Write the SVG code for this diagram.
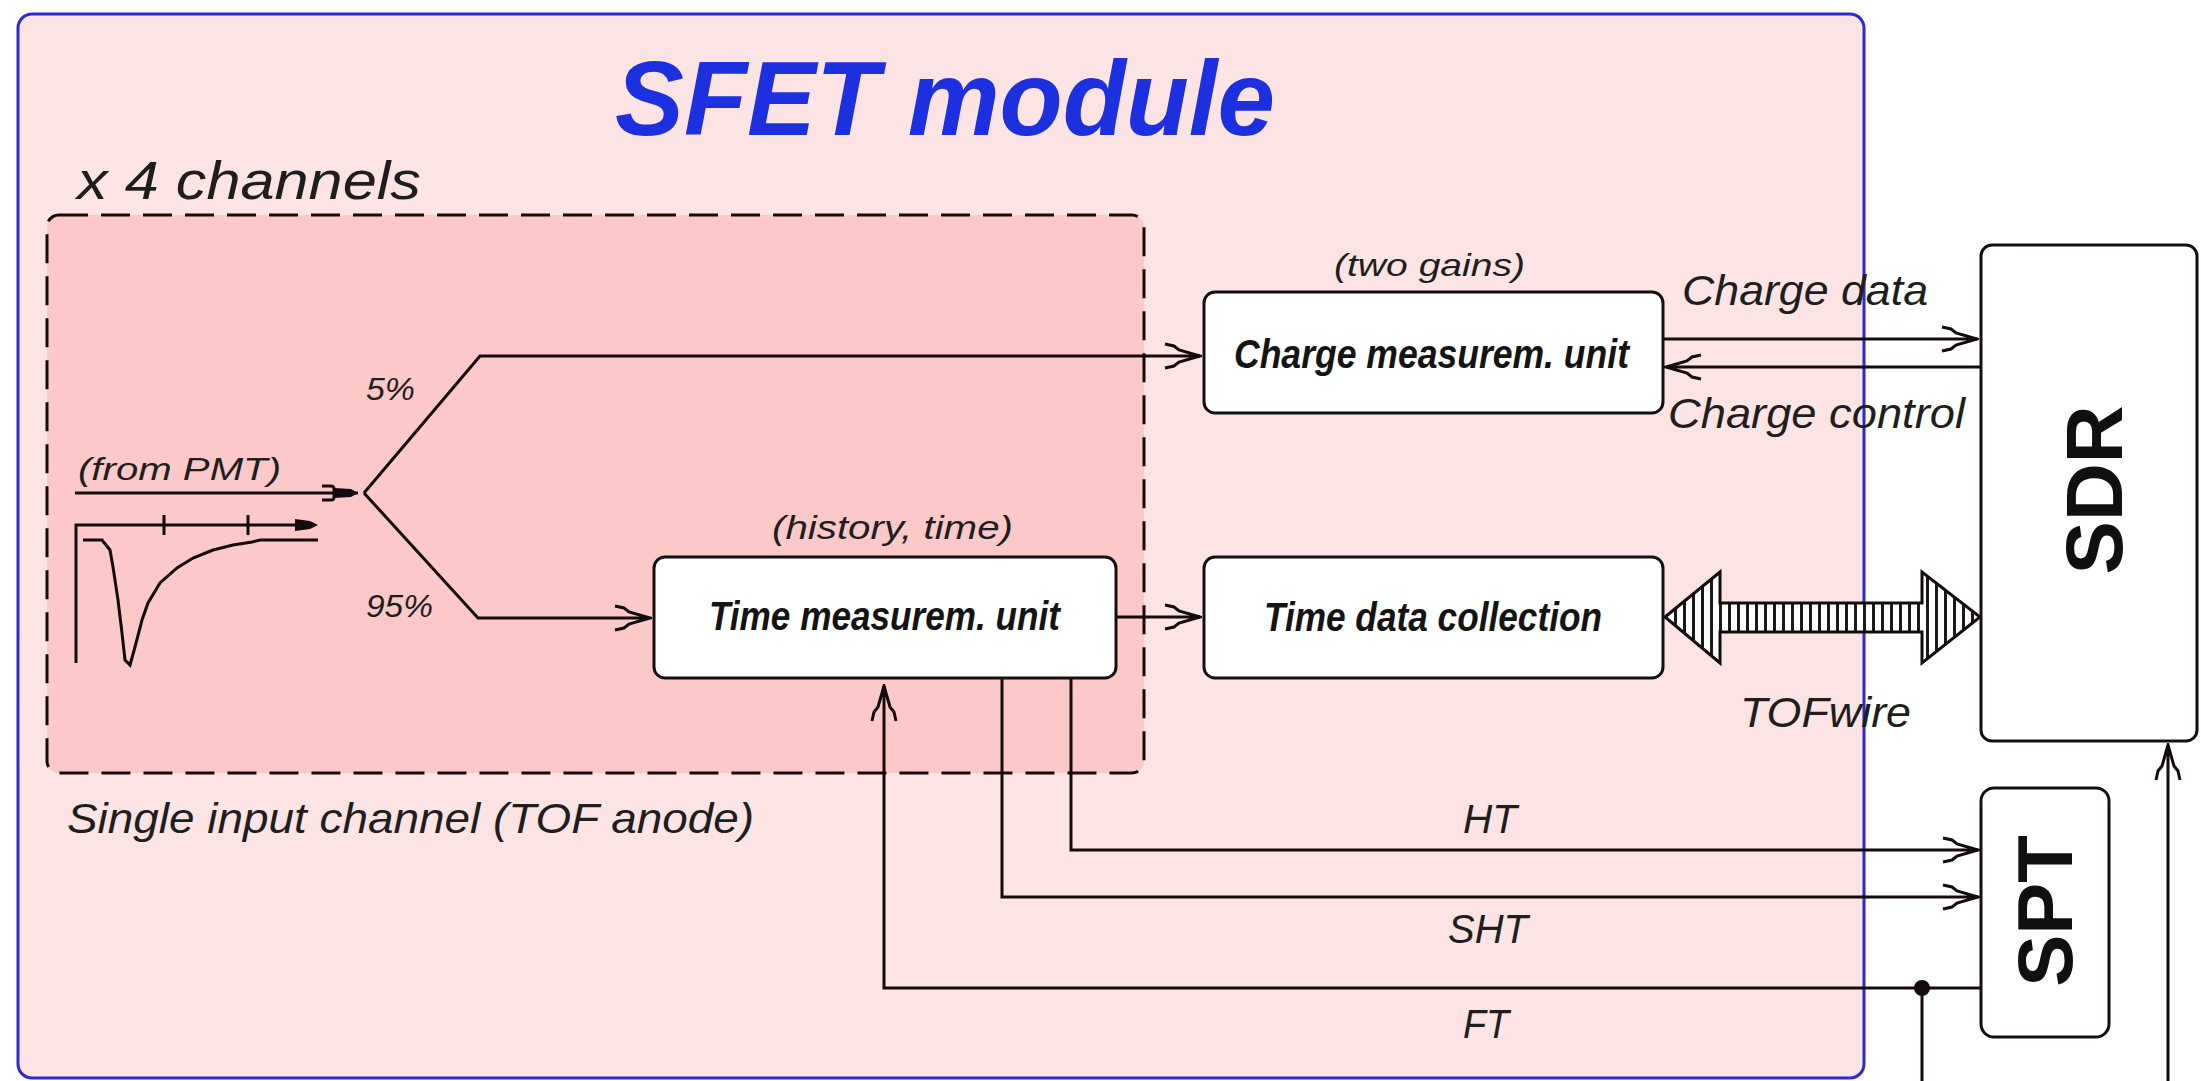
<svg xmlns="http://www.w3.org/2000/svg" width="2201" height="1081" viewBox="0 0 2201 1081">
<style>
.lbl{font-family:"Liberation Sans",Arial,sans-serif;font-style:italic;fill:#1e1e1e}
.box{fill:#ffffff;stroke:#141010;stroke-width:3}
.bl{font-family:"Liberation Sans",Arial,sans-serif;font-style:italic;font-weight:bold;fill:#141414;font-size:41px}
.big{font-family:"Liberation Sans",Arial,sans-serif;font-weight:bold;fill:#101010}
.wire{fill:none;stroke:#140c0c;stroke-width:3}
</style>
<defs>
<marker id="barb" markerUnits="userSpaceOnUse" orient="auto" viewBox="-38 -15 40 30" markerWidth="40" markerHeight="30" refX="0" refY="0">
<path d="M-35,-12 L-26,-10 L-21,-6 L0,0 L-21,6 L-26,10 L-35,12" fill="none" stroke="#140c0c" stroke-width="3"/>
<path d="M0,0 L-13,-5 L-10,0 L-13,5 Z" fill="#140c0c"/>
</marker>
<marker id="bracket" markerUnits="userSpaceOnUse" orient="auto" viewBox="-38 -12 40 24" markerWidth="40" markerHeight="24" refX="0" refY="0">
<path d="M-36,-7 L-27,-7 Q-24,-7 -24,-4 L-24,4 Q-24,7 -27,7 L-36,7" fill="none" stroke="#140c0c" stroke-width="3"/>
<path d="M-24,-5 L-7,-4 L0,0 L-7,4 L-24,5 Z" fill="#140c0c"/>
</marker>
<pattern id="hatch" patternUnits="userSpaceOnUse" width="9" height="10">
<rect width="9" height="10" fill="#ffffff"/>
<rect x="0" width="3" height="10" fill="#1a1a1a"/>
</pattern>
</defs>

<g id="sfet-module">
<rect x="18" y="14" width="1846" height="1064" rx="14" fill="#fde4e4" stroke="#2a2ad0" stroke-width="3"/>
<text x="615" y="135" class="big" font-style="italic" font-size="106" fill="#1c30e0" style="fill:#1c30e0" textLength="660" lengthAdjust="spacingAndGlyphs">SFET module</text>
</g>

<g id="channel-group">
<rect x="47" y="215" width="1097" height="558" rx="12" fill="#fcc8c8" stroke="#140c0c" stroke-width="3" stroke-dasharray="29 13"/>
<text x="77" y="199" class="lbl" font-size="54" textLength="344" lengthAdjust="spacingAndGlyphs">x 4 channels</text>
<text x="67" y="833" class="lbl" font-size="43" textLength="687" lengthAdjust="spacingAndGlyphs">Single input channel (TOF anode)</text>
</g>

<g id="waveform">
<path class="wire" d="M76,663 V525 H300"/>
<path d="M295,519 L310,521 L318,525 L310,529 L295,531 Z" fill="#140c0c"/>
<path class="wire" d="M164,515 V535 M248,515 V535"/>
<path class="wire" stroke-width="2.5" d="M83,540 L102,540 L110,550 L113,567 L118,600 L122,633 L125,660 L130,665 L135,647 L142,620 L148,603 L160,583 L177,568 L193,558 L213,550 L233,545 L252,542 L260,540 L318,540"/>
</g>

<g id="connectors">
<path class="wire" d="M75,493 H358" marker-end="url(#bracket)"/>
<path class="wire" d="M364,493 L480,356 H1200" marker-end="url(#barb)"/>
<path class="wire" d="M364,493 L478,618 H650" marker-end="url(#barb)"/>
<path class="wire" d="M1116,617 H1200" marker-end="url(#barb)"/>
<path class="wire" d="M1663,339 H1977" marker-end="url(#barb)"/>
<path class="wire" d="M1981,367 H1666" marker-end="url(#barb)"/>
<path class="wire" d="M1071,678 V850 H1978" marker-end="url(#barb)"/>
<path class="wire" d="M1002,678 V897 H1978" marker-end="url(#barb)"/>
<path class="wire" d="M1982,988 H884 V686" marker-end="url(#barb)"/>
<path class="wire" d="M1922,988 V1081"/>
<circle cx="1922" cy="988" r="8" fill="#140c0c"/>
<path class="wire" d="M2168,1081 V745" marker-end="url(#barb)"/>
<path d="M1665,617 L1720,572 V603 H1922 V572 L1980,617 L1922,663 V632 H1720 V663 Z" fill="url(#hatch)" stroke="#140c0c" stroke-width="3" stroke-linejoin="miter"/>
<text x="1334" y="276" class="lbl" font-size="32" textLength="191" lengthAdjust="spacingAndGlyphs">(two gains)</text>
<text x="1682" y="305" class="lbl" font-size="42" textLength="246" lengthAdjust="spacingAndGlyphs">Charge data</text>
<text x="1668" y="428" class="lbl" font-size="42" textLength="297" lengthAdjust="spacingAndGlyphs">Charge control</text>
<text x="78" y="480" class="lbl" font-size="32" textLength="203" lengthAdjust="spacingAndGlyphs">(from PMT)</text>
<text x="366" y="400" class="lbl" font-size="32" textLength="49" lengthAdjust="spacingAndGlyphs">5%</text>
<text x="366" y="617" class="lbl" font-size="32" textLength="67" lengthAdjust="spacingAndGlyphs">95%</text>
<text x="772" y="539" class="lbl" font-size="33" textLength="241" lengthAdjust="spacingAndGlyphs">(history, time)</text>
<text x="1740" y="727" class="lbl" font-size="42" textLength="171" lengthAdjust="spacingAndGlyphs">TOFwire</text>
<text x="1463" y="833" class="lbl" font-size="40" textLength="54" lengthAdjust="spacingAndGlyphs">HT</text>
<text x="1448" y="943" class="lbl" font-size="40" textLength="80" lengthAdjust="spacingAndGlyphs">SHT</text>
<text x="1463" y="1038" class="lbl" font-size="40" textLength="46" lengthAdjust="spacingAndGlyphs">FT</text>
</g>

<g id="charge-unit">
<rect class="box" x="1204" y="292" width="459" height="121" rx="11"/>
<text x="1234" y="368" class="bl" textLength="395" lengthAdjust="spacingAndGlyphs">Charge measurem. unit</text>
</g>

<g id="time-unit">
<rect class="box" x="654" y="557" width="462" height="121" rx="11"/>
<text x="709" y="630" class="bl" textLength="351" lengthAdjust="spacingAndGlyphs">Time measurem. unit</text>
</g>

<g id="time-data">
<rect class="box" x="1204" y="557" width="459" height="121" rx="11"/>
<text x="1264" y="631" class="bl" textLength="338" lengthAdjust="spacingAndGlyphs">Time data collection</text>
</g>

<g id="sdr">
<rect class="box" x="1981" y="245" width="216" height="496" rx="11"/>
<text class="big" font-size="80" text-anchor="middle" transform="translate(2122,490) rotate(-90)" x="0" y="0">SDR</text>
</g>

<g id="spt">
<rect class="box" x="1981" y="788" width="128" height="249" rx="13"/>
<text class="big" font-size="78" text-anchor="middle" transform="translate(2072,911) rotate(-90)" x="0" y="0">SPT</text>
</g>
</svg>
